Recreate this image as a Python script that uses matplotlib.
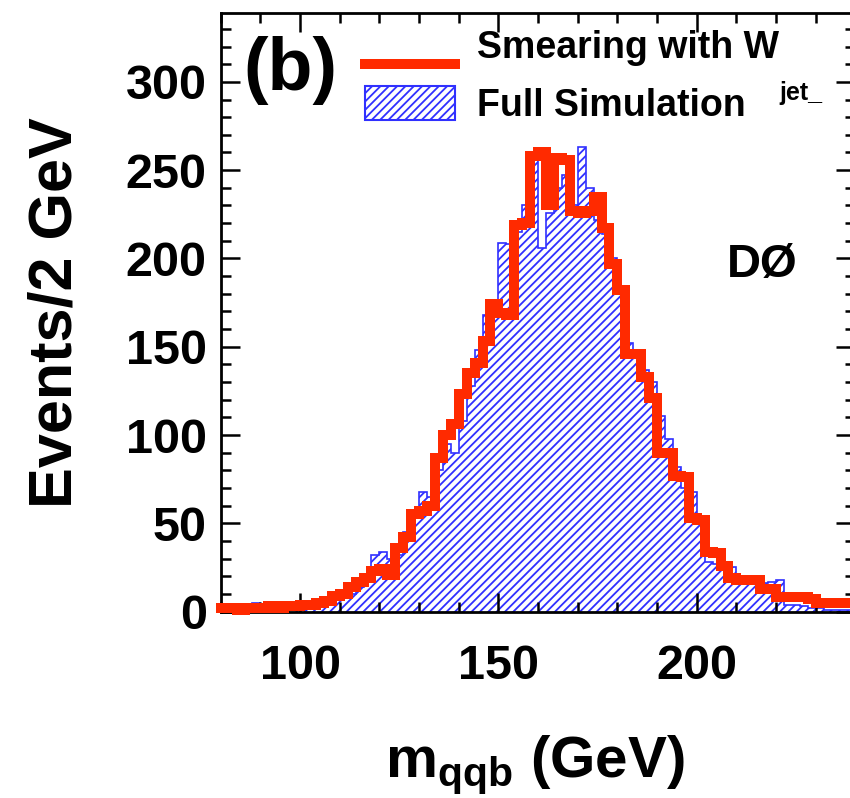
import numpy as np
import matplotlib
matplotlib.use("Agg")
import matplotlib.pyplot as plt
from matplotlib.lines import Line2D
from matplotlib.patches import Patch
from matplotlib.legend_handler import HandlerLine2D

# ---- data (2 GeV bins from 80 to 240 GeV) ----
bin_edges = np.arange(80, 242, 2)

smearing_wjet = [
    2, 2, 1, 2, 2, 2, 3, 2, 3, 3,            # 80-100
    4, 4, 5, 6, 9, 10, 14, 17, 19, 23,        # 100-120
    24, 21, 36, 42, 55, 57, 60, 87, 100, 106, # 120-140
    123, 135, 141, 153, 174, 169, 168, 219, 220, 258,  # 140-160
    260, 230, 257, 256, 227, 226, 227, 235, 217, 197,  # 160-180
    182, 146, 146, 133, 121, 90, 90, 77, 76, 53,       # 180-200
    52, 34, 33, 26, 19, 18, 18, 18, 13, 13,            # 200-220
    8, 8, 8, 8, 7, 5, 5, 5, 5, 5,                      # 220-240
]

full_simulation = [
    1, 2, 2, 4, 5, 3, 2, 3, 3, 3,             # 80-100
    3, 4, 6, 7, 7, 8, 10, 14, 20, 32,         # 100-120
    34, 30, 32, 45, 57, 68, 65, 80, 95, 90,   # 120-140
    108, 128, 148, 168, 175, 209, 208, 215, 230, 258,  # 140-160
    206, 226, 240, 247, 230, 263, 240, 222, 214, 200,  # 160-180
    180, 152, 148, 137, 130, 111, 98, 82, 70, 68,      # 180-200
    50, 28, 27, 26, 25, 17, 17, 16, 16, 17,            # 200-220
    18, 4, 4, 3, 2, 2, 1, 1, 1, 1,                     # 220-240
]

x_ticks = [100, 150, 200]
y_ticks = [0, 50, 100, 150, 200, 250, 300]

# ---- style ----
RED = "#ff2a00"
BLUE = "#3030ff"
plt.rcParams["font.family"] = ["Liberation Sans", "DejaVu Sans"]
plt.rcParams["font.weight"] = "bold"
plt.rcParams["mathtext.fontset"] = "custom"
plt.rcParams["mathtext.rm"] = "Liberation Sans:bold"
plt.rcParams["mathtext.it"] = "Liberation Sans:bold"
plt.rcParams["mathtext.bf"] = "Liberation Sans:bold"
plt.rcParams["hatch.color"] = BLUE
plt.rcParams["hatch.linewidth"] = 1.3


class LoweredLine(HandlerLine2D):
    """Legend line drawn a little below the text centre (room for subscript)."""
    def create_artists(self, legend, orig_handle, xdescent, ydescent,
                       width, height, fontsize, trans):
        arts = super().create_artists(legend, orig_handle, xdescent, ydescent,
                                      width, height, fontsize, trans)
        for a in arts:
            a.set_ydata(np.asarray(a.get_ydata(), dtype=float) - 15)
        return arts


W, H = 850, 798
fig = plt.figure(figsize=(W / 100, H / 100), dpi=100)
x0, x1 = 220.7, 855.4
y0, y1 = 611.6, 13.0
ax = fig.add_axes([x0 / W, (H - y0) / H, (x1 - x0) / W, (y0 - y1) / H])

# Full simulation: hatched histogram
ax.stairs(full_simulation, bin_edges, fill=True, facecolor="white",
          edgecolor=BLUE, hatch="////", linewidth=1.2, zorder=1)

# Smearing: thick red step line
red_y = np.append(smearing_wjet, smearing_wjet[-1])
ax.step(bin_edges, red_y, where="post", color=RED, linewidth=7.2,
        solid_joinstyle="miter", zorder=3, clip_on=False)

ax.set_xlim(80, 240)
ax.set_ylim(0, 339)

ax.set_xticks(x_ticks)
ax.set_xticks(np.arange(80, 241, 10), minor=True)
ax.set_yticks(y_ticks)
ax.set_yticks(np.arange(0, 340, 10), minor=True)
ax.tick_params(which="both", direction="in", top=True, right=True, width=1.8,
               colors="black")
ax.tick_params(which="major", length=14)
ax.tick_params(which="minor", length=7)
ax.tick_params(axis="y", which="major", labelsize=35, pad=10)
ax.tick_params(axis="x", which="major", labelsize=35, pad=23)
for lab in ax.get_xticklabels() + ax.get_yticklabels():
    lab.set_fontweight("bold")
for sp in ax.spines.values():
    sp.set_linewidth(2.0)
    sp.set_zorder(2.5)

ax.set_ylabel("Events/2 GeV", fontsize=44, fontweight="bold")
ax.yaxis.set_label_coords(-0.214, 0.5)
ax.set_xlabel(r"m$_{qqb}$ (GeV)", fontsize=42, fontweight="bold", va="center")
ax.xaxis.set_label_coords(0.495, -0.255)

red_handle = Line2D([], [], color=RED, linewidth=7.2)
blue_handle = Patch(facecolor="white", edgecolor=BLUE, hatch="////", linewidth=1.5)
leg = ax.legend([red_handle, blue_handle], ["Smearing with W", "Full Simulation"],
                loc="upper left", bbox_to_anchor=(0.227, 0.975),
                frameon=False, borderpad=0, borderaxespad=0,
                handlelength=2.4, handleheight=1.0, handletextpad=0.6,
                labelspacing=0.55, prop={"size": 27, "weight": "bold"},
                handler_map={red_handle: LoweredLine()})

ax.text(0.881, 0.866, "jet_", transform=ax.transAxes, fontsize=18,
        fontweight="bold", ha="left", va="center", clip_on=False)
ax.text(0.036, 0.962, "(b)", transform=ax.transAxes, fontsize=53,
        fontweight="bold", ha="left", va="top")
ax.text(0.798, 0.579, "DØ", transform=ax.transAxes, fontsize=34,
        fontweight="bold", ha="left", va="center")

fig.savefig("out.png", dpi=100)
